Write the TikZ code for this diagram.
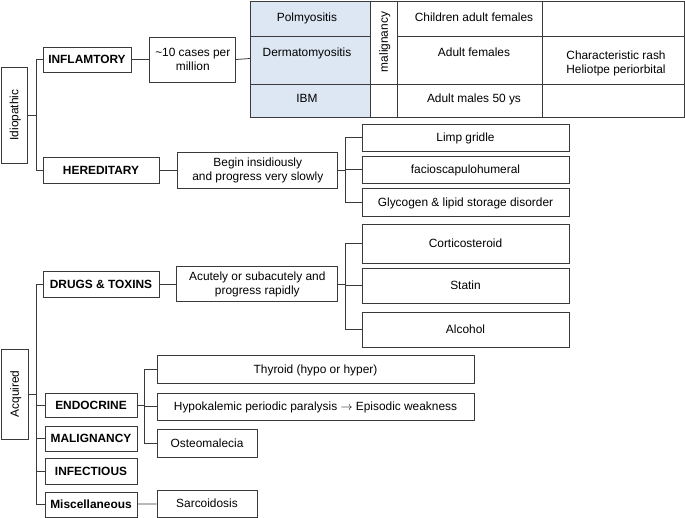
\documentclass[tikz,border=0pt]{standalone}
\usepackage{fontspec}
\setmainfont{Liberation Sans}
\usetikzlibrary{positioning}
\definecolor{linegray}{HTML}{3A3A3A}
\definecolor{cellblue}{HTML}{DDE7F3}

\begin{document}
\begin{tikzpicture}[x=1pt,y=-1pt,
	every node/.style={font=\fontsize{11.9}{14}\selectfont},
	oneline/.style={text height=9.5pt,text depth=1pt},
	frame/.style={draw=linegray,line width=0.8pt,inner sep=0pt,align=center},
	box/.style={frame,oneline},
	catbox/.style={box,font=\fontsize{11.9}{14}\selectfont\bfseries},
	link/.style={draw=linegray,line width=0.8pt}]

				    \useasboundingbox (0,0) rectangle (685,518);

				    % Idiopathic side
				    \node[box,rotate=90,minimum width=96,minimum height=26] (idio) at (14,115) {Idiopathic};
				    \node[catbox,minimum width=88,minimum height=25] (infl) at (87,59.5) {INFLAMTORY};
				    \node[frame,minimum width=86,minimum height=45,right=18pt of infl] (cases) {\textasciitilde10 cases per\\million};
				    \node[catbox,minimum width=116,minimum height=26] (hered) at (101,170) {HEREDITARY};
				    \node[frame,minimum width=160,minimum height=36,right=18pt of hered] (slow) {Begin insidiously\\and progress very slowly};
				    \node[box,minimum width=207,minimum height=27] (limp) at (465.5,137.5) {Limp gridle};
				    \node[box,minimum width=207,minimum height=27] (facio) at (465.5,169.5) {facioscapulohumeral};
				    \node[box,minimum width=207,minimum height=28] (glyco) at (465.5,202) {Glycogen \& lipid storage disorder};

				    % Table of inflammatory myopathies
				    \fill[cellblue] (250,1) rectangle (370,117);
				    \draw[link] (250,1) rectangle (684,117);
				    \foreach \cx in {370,397,542}
				        \draw[link] (\cx,1) -- (\cx,117);
				    \draw[link] (250,36) -- (370,36) (397,36) -- (684,36) (250,84) -- (684,84);
				    \coordinate (tbl) at (250,58.5);
				    \node[oneline] (polym) at (307,17) {Polmyositis};
				    \node[oneline] (derma) at (307,52.5) {Dermatomyositis};
				    \node[oneline] (ibm) at (307,98) {IBM};
				    \node[oneline,rotate=90] (malig) at (383.5,42) {malignancy};
				    \node[oneline] (child) at (474,17) {Children adult females};
				    \node[oneline] (adfem) at (474,52.5) {Adult females};
				    \node[oneline] (admal) at (474,98) {Adult males 50 ys};
				    \node[align=center] (rash) at (616,63) {Characteristic rash\\Heliotpe periorbital};

				    % Acquired side
				    \node[box,rotate=90,minimum width=90,minimum height=27] (acq) at (14.5,394) {Acquired};
				    \node[catbox,minimum width=116,minimum height=26] (drugs) at (101,284) {DRUGS \& TOXINS};
				    \node[frame,minimum width=161,minimum height=35,right=17pt of drugs] (rapid) {Acutely or subacutely and\\progress rapidly};
				    \node[box,minimum width=207,minimum height=39] (cort) at (465.5,243.5) {Corticosteroid};
				    \node[box,minimum width=207,minimum height=35] (stat) at (465.5,285.5) {Statin};
				    \node[box,minimum width=207,minimum height=35] (alco) at (465.5,329.5) {Alcohol};
				    \node[catbox,minimum width=92,minimum height=24] (endo) at (91,405) {ENDOCRINE};
				    \node[catbox,minimum width=92,minimum height=25] (malg) at (91,438.5) {MALIGNANCY};
				    \node[catbox,minimum width=92,minimum height=26] (infe) at (91,471) {INFECTIOUS};
				    \node[catbox,minimum width=92,minimum height=25] (misc) at (91,504.5) {Miscellaneous};
				    \node[box,minimum width=317,minimum height=28] (thyr) at (315.5,369) {Thyroid (hypo or hyper)};
				    \node[box,minimum width=317,minimum height=27] (hypo) at (315.5,406.5) {Hypokalemic periodic paralysis $\rightarrow$ Episodic weakness};
				    \node[box,minimum width=100,minimum height=28] (osteo) at (207,443) {Osteomalecia};
				    \node[box,minimum width=100,minimum height=27] (sarc) at (207,503.5) {Sarcoidosis};

				    % Connectors
				    \foreach \n in {infl,hered}
				        \draw[link] (idio.south) -- ++(9,0) |- (\n.west);
				    \draw[link] (infl) -- (cases);
				    \draw[link] (cases.east) -- (tbl);
				    \draw[link] (hered) -- (slow);
				    \foreach \n in {limp,facio,glyco}
				        \draw[link] (slow.east) -- ++(7,0) |- (\n.west);
				    \foreach \n in {drugs,endo,malg,infe,misc}
				        \draw[link] (acq.south) -- ++(8,0) |- (\n.west);
				    \draw[link] (drugs) -- (rapid);
				    \foreach \n in {cort,stat,alco}
				        \draw[link] (rapid.east) -- ++(7,0) |- (\n.west);
				    \foreach \n in {thyr,hypo,osteo}
				        \draw[link] (endo.east) -- ++(7,0) |- (\n.west);
				    \draw[link] (misc) -- (sarc);
				\end{tikzpicture}
\end{document}
